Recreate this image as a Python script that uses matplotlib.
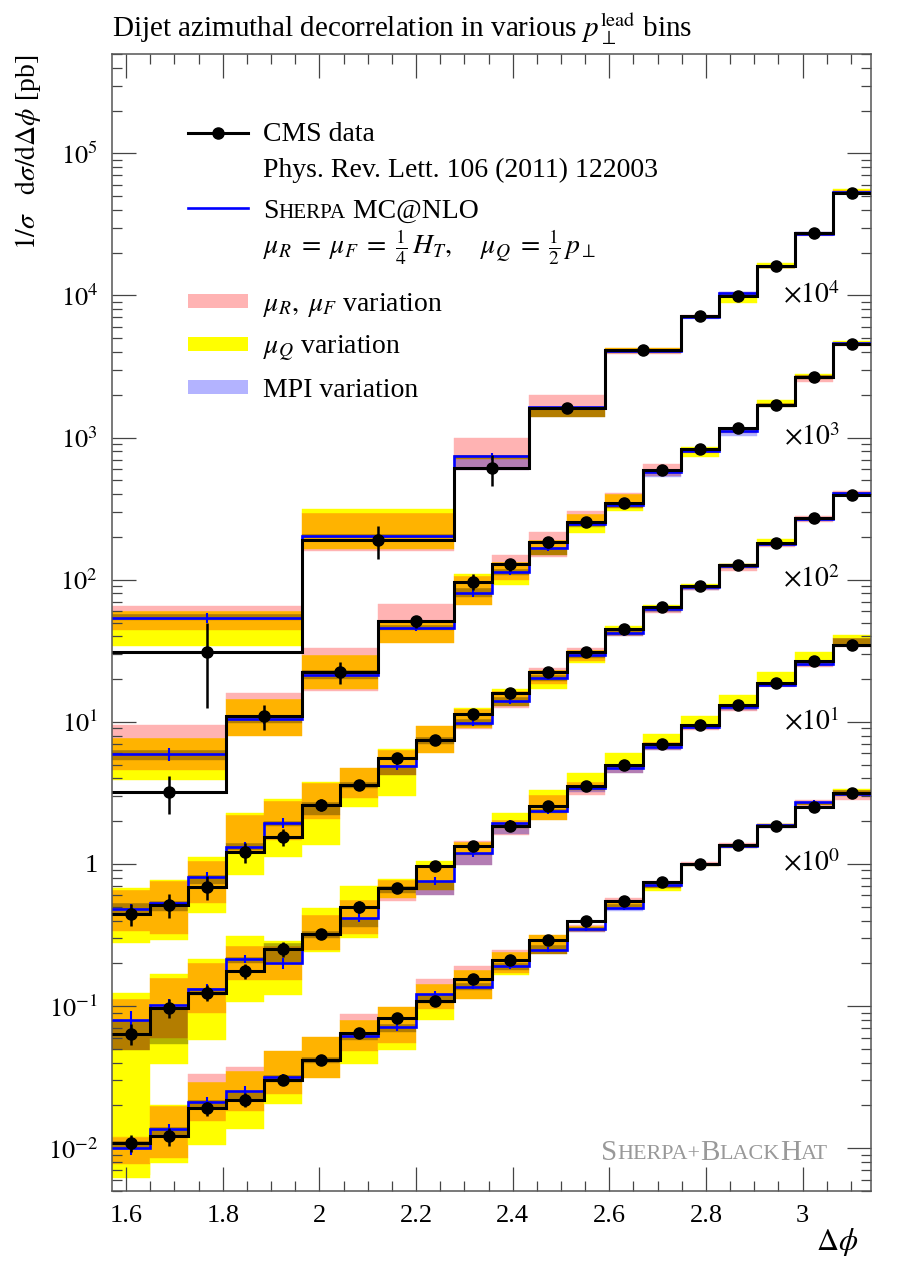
import numpy as np
import matplotlib
matplotlib.use("Agg")
import matplotlib.pyplot as plt
from matplotlib.patches import Rectangle
from matplotlib.ticker import FixedLocator, MultipleLocator, LogLocator, NullFormatter, FuncFormatter

plt.rcParams['font.family'] = ['Liberation Serif', 'DejaVu Serif']
plt.rcParams['mathtext.fontset'] = 'stix'

# Delta phi binning: pi/2 .. pi in steps of pi/40, some bins merged
EDGES = np.pi / 2 + np.arange(21) * np.pi / 40

# ---- bin 1 (highest p_T, x10^4) ----
a_edges = [0, 5, 9, 11, 13, 15, 16, 17, 18, 19, 20]
a_data = [31, 190, 610, 1610, 4150, 7200, 9900, 16100, 27500, 53000]
a_err = [18.5, 50, 150, 130, 160, 250, 350, 550, 900, 1700]
a_mc = [54, 202, 740, 1630, 4050, 7050, 10400, 16000, 27000, 53500]
a_mcerr = [4, 8, 40, 60, 80, 100, 200, 250, 400, 800]
a_pink = [(44, 65), (160, 295), (590, 1000), (1390, 2000), (3900, 4250), (6900, 7300),
          (10000, 10500), (15600, 16400), (26000, 27800), (52000, 55000)]
a_yel = [(34, 60), (165, 313), (710, 760), (1390, 1650), (3950, 4250), (6900, 7200),
         (8800, 10400), (15500, 16800), (26500, 27500), (52000, 56000)]
a_mpi = [(52, 57), (195, 210), (590, 760), (1390, 1650), (3950, 4150), (6850, 7150),
         (10100, 10600), (15700, 16200), (26500, 28000), (52500, 54500)]

# ---- bin 2 (x10^3) ----
b_edges = [0, 3, 5, 7, 9, 10, 11, 12, 13, 14, 15, 16, 17, 18, 19, 20]
b_data = [3.2, 11, 22.4, 51, 97, 128, 183, 256, 345, 595, 826, 1170, 1700, 2680, 4520]
b_err = [0.95, 2.2, 4, 5, 13, 12, 15, 18, 20, 35, 40, 50, 70, 100, 160]
b_mc = [5.9, 10.4, 21.5, 46, 81, 113, 166, 245, 334, 570, 810, 1110, 1700, 2650, 4600]
b_mcerr = [0.6, 0.8, 1.2, 2.5, 5, 5, 7, 9, 11, 18, 22, 30, 40, 60, 90]
b_pink = [(4.6, 9.5), (7.9, 15.9), (16.6, 33), (36, 68), (66, 107), (99, 150), (144, 216),
          (240, 302), (320, 405), (540, 650), (780, 830), (1080, 1150), (1650, 1760),
          (2450, 2750), (4400, 4700)]
b_yel = [(3.9, 7.7), (7.9, 14.4), (16.9, 29.5), (36, 52), (66, 110), (92, 133), (150, 190),
         (212, 290), (302, 400), (560, 600), (735, 865), (1090, 1140), (1650, 1850),
         (2600, 2800), (4450, 4800)]
b_mpi = [(5.4, 6.3), (9.8, 11), (20, 23), (44, 48), (75, 88), (108, 118), (150, 170),
         (235, 255), (320, 345), (525, 580), (790, 830), (1030, 1160), (1650, 1750),
         (2600, 2750), (4450, 4650)]

# ---- bin 3 (x10^2) ----
c_edges = list(range(21))
c_data = [0.445, 0.515, 0.69, 1.21, 1.55, 2.6, 3.6, 5.55, 7.5, 11.3, 16, 22.5, 31, 45, 64,
          91, 126, 180, 271, 392]
c_err = [0.08, 0.1, 0.13, 0.2, 0.22, 0.25, 0.3, 0.5, 0.5, 0.8, 1.0, 1.2, 1.5, 2, 3, 4, 5, 7, 10, 14]
c_mc = [0.48, 0.53, 0.81, 1.32, 1.94, 2.6, 3.6, 4.9, 7.4, 9.8, 14, 20.5, 29.5, 42, 62, 89, 124,
        178, 268, 405]
c_mcerr = [0.04, 0.04, 0.07, 0.11, 0.15, 0.15, 0.2, 0.3, 0.35, 0.5, 0.7, 0.9, 1.2, 1.6, 2.2, 3,
           4, 5, 7, 10]
c_pink = [(0.34, 0.66), (0.32, 0.76), (0.53, 1.05), (1.2, 2.2), (1.47, 2.77), (2.07, 3.7),
          (2.9, 4.7), (4.2, 6.3), (6.0, 9.3), (8.9, 12.3), (12.5, 16.5), (18.5, 24), (27, 33),
          (40, 46), (58, 65), (84, 92), (116, 128), (170, 185), (255, 280), (390, 420)]
c_yel = [(0.28, 0.68), (0.29, 0.77), (0.45, 1.12), (0.84, 2.3), (1.12, 2.85), (1.36, 3.75),
         (2.5, 4.7), (3.0, 6.4), (6.0, 9.3), (9.0, 12.5), (13, 17), (17, 23), (26, 32), (41, 47),
         (60, 66), (87, 93), (121, 130), (176, 194), (264, 278), (395, 415)]
c_mpi = [(0.45, 0.53), (0.47, 0.55), (0.72, 0.83), (1.25, 1.4), (1.85, 2.0), (2.2, 2.75),
         (3.4, 3.8), (4.2, 5.0), (7.0, 7.8), (9.3, 10.5), (13, 15), (19.5, 21.5), (28, 31),
         (40, 44), (59, 64), (85, 92), (120, 128), (172, 183), (260, 275), (395, 412)]

# ---- bin 4 (x10^1) ----
d_edges = list(range(21))
d_data = [0.064, 0.097, 0.124, 0.177, 0.253, 0.32, 0.50, 0.68, 0.97, 1.34, 1.85, 2.56, 3.54,
          4.97, 7.0, 9.5, 13.1, 18.7, 26.7, 34.5]
d_err = [0.011, 0.015, 0.016, 0.022, 0.03, 0.025, 0.05, 0.05, 0.07, 0.1, 0.13, 0.15, 0.2, 0.25,
         0.35, 0.45, 0.6, 0.8, 1.1, 1.5]
d_mc = [0.080, 0.102, 0.132, 0.215, 0.20, 0.32, 0.42, 0.68, 0.76, 1.19, 1.95, 2.36, 3.4, 4.7,
        6.7, 9.2, 12.7, 18.2, 25.5, 35]
d_mcerr = [0.012, 0.011, 0.012, 0.015, 0.018, 0.02, 0.03, 0.04, 0.05, 0.07, 0.09, 0.12, 0.15,
           0.2, 0.25, 0.35, 0.45, 0.6, 0.8, 1.2]
d_pink = [(0.049, 0.112), (0.06, 0.158), (0.09, 0.2), (0.153, 0.265), (0.153, 0.265),
          (0.25, 0.44), (0.32, 0.56), (0.55, 0.77), (0.6, 0.98), (0.98, 1.45), (1.6, 2.05),
          (2.04, 3.05), (3.06, 3.8), (4.4, 5.0), (6.3, 7.2), (8.7, 9.6), (11.9, 13.4),
          (17.5, 19.2), (24.5, 27), (33.5, 39)]
d_yel = [(0.0062, 0.124), (0.039, 0.168), (0.058, 0.215), (0.106, 0.31), (0.12, 0.285),
         (0.24, 0.49), (0.30, 0.70), (0.58, 0.78), (0.66, 1.05), (1.15, 1.42), (1.8, 2.28),
         (2.04, 3.3), (3.3, 4.4), (4.7, 6.0), (6.6, 8.2), (9.0, 11), (12.5, 15.4), (17.8, 22.3),
         (25, 31), (34, 41)]
d_mpi = [(0.049, 0.08), (0.054, 0.097), (0.12, 0.135), (0.2, 0.22), (0.205, 0.28), (0.3, 0.34),
         (0.36, 0.42), (0.62, 0.7), (0.6, 0.76), (0.98, 1.2), (1.62, 1.95), (2.3, 2.45),
         (3.2, 3.5), (4.4, 4.8), (6.3, 6.9), (8.9, 9.4), (12.2, 13), (17.8, 18.6), (24.8, 26),
         (35, 39)]

# ---- bin 5 (lowest p_T, x10^0) ----
e_edges = list(range(21))
e_data = [0.0109, 0.0121, 0.0191, 0.0220, 0.0304, 0.042, 0.065, 0.083, 0.109, 0.155, 0.21,
          0.29, 0.40, 0.55, 0.75, 1.0, 1.36, 1.85, 2.5, 3.15]
e_err = [0.0015, 0.0018, 0.0022, 0.0025, 0.0025, 0.002, 0.004, 0.005, 0.006, 0.008, 0.01,
         0.014, 0.018, 0.025, 0.035, 0.045, 0.06, 0.08, 0.11, 0.14]
e_mc = [0.0101, 0.0136, 0.0213, 0.0254, 0.0317, 0.042, 0.062, 0.071, 0.122, 0.137, 0.19, 0.25,
        0.35, 0.49, 0.71, 1.0, 1.33, 1.87, 2.73, 3.1]
e_mcerr = [0.0012, 0.0012, 0.0015, 0.0018, 0.0015, 0.002, 0.003, 0.004, 0.005, 0.006, 0.008,
           0.01, 0.012, 0.016, 0.02, 0.03, 0.04, 0.05, 0.07, 0.1]
e_pink = [(0.0078, 0.0119), (0.0085, 0.0197), (0.0155, 0.0334), (0.0183, 0.0375),
          (0.0241, 0.048), (0.031, 0.061), (0.048, 0.088), (0.055, 0.099), (0.096, 0.155),
          (0.113, 0.19), (0.17, 0.25), (0.233, 0.316), (0.33, 0.37), (0.48, 0.58), (0.68, 0.76),
          (0.97, 1.03), (1.3, 1.4), (1.8, 1.92), (2.55, 2.8), (2.8, 3.3)]
e_yel = [(0.0065, 0.012), (0.0079, 0.020), (0.0106, 0.029), (0.0136, 0.035), (0.0206, 0.048),
         (0.031, 0.061), (0.039, 0.080), (0.049, 0.099), (0.080, 0.144), (0.113, 0.18),
         (0.165, 0.24), (0.233, 0.316), (0.34, 0.365), (0.5, 0.56), (0.65, 0.73), (0.97, 1.02),
         (1.3, 1.38), (1.82, 1.92), (2.6, 2.75), (3.0, 3.35)]
e_mpi = [(0.0098, 0.0113), (0.012, 0.014), (0.019, 0.022), (0.022, 0.025), (0.029, 0.033),
         (0.04, 0.044), (0.058, 0.065), (0.066, 0.075), (0.105, 0.122), (0.13, 0.145),
         (0.18, 0.2), (0.233, 0.27), (0.33, 0.36), (0.47, 0.52), (0.68, 0.73), (0.97, 1.02),
         (1.3, 1.38), (1.8, 1.9), (2.6, 2.75), (3.0, 3.3)]

scale_labels = [r"$\times10^4$", r"$\times10^3$", r"$\times10^2$", r"$\times10^1$", r"$\times10^0$"]
scale_pos = [1e4, 1e3, 1e2, 1e1, 1e0]

PINK = np.array([1.0, 0.7, 0.7])
YELLOW = np.array([1.0, 1.0, 0.0])
LAVENDER = np.array([0.7, 0.7, 1.0])

W, H = 899, 1267
AX_L, AX_R, AX_T, AX_B = 112, 871, 54, 1191
FS = 20      # legend / label text
FS_TICK = 19
MS = 8


def fx(px):
    return px / W


def fy(py):
    return 1 - py / H


def draw_bands(ax, edges, pink, yel, mpi):
    # overlapping bands mix multiplicatively
    for i in range(len(edges) - 1):
        bands = [(pink[i], PINK), (yel[i], YELLOW), (mpi[i], LAVENDER)]
        cuts = sorted(set(v for (lo, hi), _ in bands for v in (lo, hi)))
        for lo, hi in zip(cuts[:-1], cuts[1:]):
            mid = np.sqrt(lo * hi)
            col = np.ones(3)
            hit = False
            for (blo, bhi), c in bands:
                if blo <= mid <= bhi:
                    col = col * c
                    hit = True
            if hit:
                ax.bar(edges[i], hi - lo, width=edges[i + 1] - edges[i], bottom=lo,
                       align='edge', color=col, edgecolor=col, linewidth=0.3, zorder=1)


def small_caps(ax, x, y, pieces, size, color='k', transform=None):
    small = size * 0.76
    first, big = pieces[0]
    s_prev = size if big else small
    t = ax.text(x, y, first, fontsize=s_prev, color=color, va='baseline', ha='left',
                transform=transform)
    for txt, big in pieces[1:]:
        s = size if big else small
        t = ax.annotate(txt, xy=(1, 0), xycoords=t, xytext=(0, 0.22 * (s_prev - s)),
                        textcoords='offset points', fontsize=s, color=color,
                        va='bottom', ha='left', annotation_clip=False)
        s_prev = s


fig = plt.figure(figsize=(W / 100, H / 100), dpi=100)
ax = fig.add_axes([fx(AX_L), fy(AX_B), fx(AX_R) - fx(AX_L), fy(AX_T) - fy(AX_B)])

series = [
    (a_edges, a_data, a_err, a_mc, a_mcerr, a_pink, a_yel, a_mpi),
    (b_edges, b_data, b_err, b_mc, b_mcerr, b_pink, b_yel, b_mpi),
    (c_edges, c_data, c_err, c_mc, c_mcerr, c_pink, c_yel, c_mpi),
    (d_edges, d_data, d_err, d_mc, d_mcerr, d_pink, d_yel, d_mpi),
    (e_edges, e_data, e_err, e_mc, e_mcerr, e_pink, e_yel, e_mpi),
]

for idx, data, err, mc, mcerr, pink, yel, mpi in series:
    edges = EDGES[idx]
    centers = 0.5 * (edges[:-1] + edges[1:])
    draw_bands(ax, edges, pink, yel, mpi)
    ax.stairs(mc, edges, baseline=None, color='#0000ff', lw=1.9, zorder=3)
    ax.errorbar(centers, mc, yerr=mcerr, fmt='none', ecolor='#0000ff', elinewidth=1.5, zorder=3)
    ax.stairs(data, edges, baseline=None, color='k', lw=2.2, zorder=4)
    ax.errorbar(centers, data, yerr=err, fmt='o', color='k', ms=MS, elinewidth=1.8,
                capsize=0, zorder=5)

for lab, pos in zip(scale_labels, scale_pos):
    ax.text((840 - AX_L) / (AX_R - AX_L), pos, lab, transform=ax.get_yaxis_transform(),
            ha='right', va='center', fontsize=FS)

ax.set_yscale('log')
ax.set_xlim(np.pi / 2, np.pi)
ax.set_ylim(5e-3, 5e5)
ax.xaxis.set_major_locator(FixedLocator([1.6, 1.8, 2.0, 2.2, 2.4, 2.6, 2.8, 3.0]))
ax.xaxis.set_minor_locator(MultipleLocator(0.05))
ax.xaxis.set_major_formatter(FuncFormatter(lambda v, p: f"{v:g}"))
ax.yaxis.set_major_locator(FixedLocator([10.0 ** k for k in range(-2, 6)]))
ax.yaxis.set_minor_locator(LogLocator(base=10, subs=np.arange(2, 10)))
ax.yaxis.set_minor_formatter(NullFormatter())
ax.yaxis.set_major_formatter(FuncFormatter(
    lambda v, p: "1" if abs(v - 1) < 1e-9 else r"$10^{%d}$" % round(np.log10(v))))
ax.tick_params(which='both', direction='in', top=True, right=True, colors='#444444',
               labelcolor='k', labelsize=FS_TICK, width=0.9)
ax.tick_params(which='major', length=17, pad=10)
ax.tick_params(which='minor', length=7)
for sp in ax.spines.values():
    sp.set_color('#555555')
    sp.set_linewidth(1.1)

# title and axis labels
fig.text(fx(AX_L), fy(37), r"Dijet azimuthal decorrelation in various $p_\perp^{\rm lead}$ bins",
         fontsize=21, ha='left', va='baseline')
fig.text(fx(28), fy(55), r"$1/\sigma\quad \mathrm{d}\sigma/\mathrm{d}\Delta\phi$ [pb]",
         fontsize=FS, rotation=90, ha='center', va='top')
fig.text(fx(858), fy(1242), r"$\Delta\phi$", fontsize=FS + 2, ha='right', va='center')

# legend
tf = fig.transFigure
ax.plot([fx(188), fx(248)], [fy(133), fy(133)], color='k', lw=2.2, transform=tf, clip_on=False)
ax.plot([fx(218)], [fy(133)], 'o', color='k', ms=MS, transform=tf, clip_on=False)
fig.text(fx(263), fy(141), "CMS data", fontsize=FS, va='baseline')
fig.text(fx(263), fy(177), "Phys. Rev. Lett. 106 (2011) 122003", fontsize=FS, va='baseline')
ax.plot([fx(188), fx(248)], [fy(208), fy(208)], color='#0000ff', lw=1.9, transform=tf,
        clip_on=False)
small_caps(ax, fx(263), fy(218), [("S", True), ("HERPA", False), (" MC@NLO", True)], FS,
           transform=tf)
fig.text(fx(263), fy(253),
         r"$\mu_R\;=\;\mu_F\;=\;\frac{1}{4}\,H_T,\quad\; \mu_Q\;=\;\frac{1}{2}\,p_\perp$",
         fontsize=FS, va='baseline')
for yc, col, lab in [(301, PINK, r"$\mu_R,\; \mu_F$ variation"),
                     (344, YELLOW, r"$\mu_Q$ variation"),
                     (387, LAVENDER, "MPI variation")]:
    fig.patches.append(Rectangle((fx(188), fy(yc + 7)), fx(60), 14 / H, transform=tf,
                                 facecolor=col, edgecolor='none'))
    fig.text(fx(263), fy(yc + 10), lab, fontsize=FS, va='baseline')

small_caps(ax, fx(601), fy(1160),
           [("S", True), ("HERPA+", False), ("B", True), ("LACK", False), ("H", True),
            ("AT", False)], FS + 1, color='#999999', transform=tf)

fig.savefig("out.png", dpi=100)
